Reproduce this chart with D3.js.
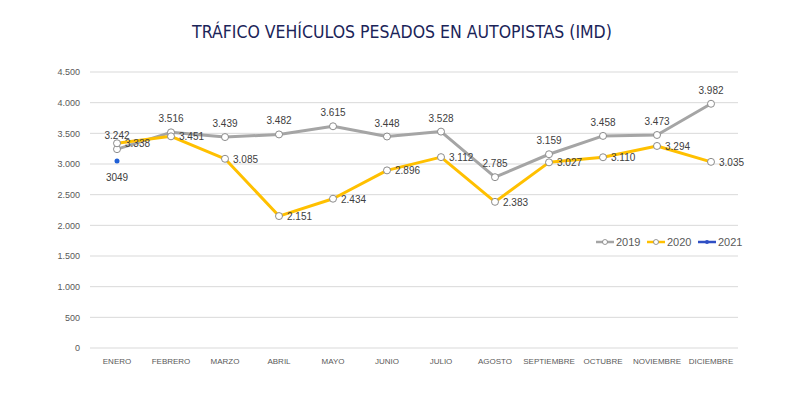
<!DOCTYPE html>
<html>
<head>
<meta charset="utf-8">
<script src="https://cdn.jsdelivr.net/npm/d3@7"></script>
<style>
  body { margin: 0; background: #fff; }
  text { font-family: "Liberation Sans", sans-serif; }
</style>
</head>
<body>
<div id="chart-area"></div>
<script>
// Data
var months = ["ENERO", "FEBRERO", "MARZO", "ABRIL", "MAYO", "JUNIO", "JULIO",
              "AGOSTO", "SEPTIEMBRE", "OCTUBRE", "NOVIEMBRE", "DICIEMBRE"];
var values2019 = [3242, 3516, 3439, 3482, 3615, 3448, 3528, 2785, 3159, 3458, 3473, 3982];
var values2020 = [3338, 3451, 3085, 2151, 2434, 2896, 3112, 2383, 3027, 3110, 3294, 3035];
var values2021 = [3049];
var yTicks = [0, 500, 1000, 1500, 2000, 2500, 3000, 3500, 4000, 4500];

var width = 800, height = 399;
var margin = { left: 90, right: 62, top: 72, bottom: 51 };
var innerW = width - margin.left - margin.right,
    innerH = height - margin.top - margin.bottom;

var svg = d3.select("#chart-area")
    .append("svg")
        .attr("width", width)
        .attr("height", height);

// Title
svg.append("text")
    .attr("x", 402)
    .attr("y", 38)
    .attr("text-anchor", "middle")
    .attr("font-size", "17.5px")
    .attr("fill", "#1b2459")
    .style("font-family", "\"DejaVu Sans Condensed\", \"DejaVu Sans\", sans-serif")
    .text("TRÁFICO VEHÍCULOS PESADOS EN AUTOPISTAS (IMD)");

var g = svg.append("g")
    .attr("transform", "translate(" + margin.left + "," + margin.top + ")");

var x = d3.scaleBand()
    .domain(months)
    .range([0, innerW]);

var y = d3.scaleLinear()
    .domain([0, 4500])
    .range([innerH, 0]);

var fmt = function(v) { return d3.format(",")(v).replace(/,/g, "."); };

// Gridlines
g.selectAll(".grid")
    .data(yTicks)
    .enter().append("line")
        .attr("x1", 0)
        .attr("x2", innerW)
        .attr("y1", function(d) { return y(d); })
        .attr("y2", function(d) { return y(d); })
        .attr("stroke", "#d9d9d9")
        .attr("stroke-width", 1);

// Y axis
var yAxis = g.append("g")
    .call(d3.axisLeft(y).tickValues(yTicks).tickSize(0).tickPadding(10).tickFormat(fmt));
yAxis.select(".domain").remove();
yAxis.selectAll("text")
    .attr("font-size", "9px")
    .attr("fill", "#595959")
    .style("font-family", "\"Liberation Sans\", sans-serif");

// X axis
var xAxis = g.append("g")
    .attr("transform", "translate(0," + innerH + ")")
    .call(d3.axisBottom(x).tickSize(0).tickPadding(10));
xAxis.select(".domain").remove();
xAxis.selectAll("text")
    .attr("font-size", "8px")
    .attr("fill", "#595959")
    .style("font-family", "\"Liberation Sans\", sans-serif");

var cx = function(i) { return x(months[i]) + x.bandwidth() / 2; };

var line = d3.line()
    .x(function(d, i) { return cx(i); })
    .y(function(d) { return y(d); });

var series = [
    { name: "2019", values: values2019, color: "#a5a5a5" },
    { name: "2020", values: values2020, color: "#ffc000" }
];

series.forEach(function(s) {
    g.append("path")
        .datum(s.values)
        .attr("fill", "none")
        .attr("stroke", s.color)
        .attr("stroke-width", 3)
        .attr("stroke-linejoin", "round")
        .attr("d", line);
});

series.forEach(function(s) {
    g.selectAll(".pt" + s.name)
        .data(s.values)
        .enter().append("circle")
            .attr("cx", function(d, i) { return cx(i); })
            .attr("cy", function(d) { return y(d); })
            .attr("r", 3.5)
            .attr("fill", "#fff")
            .attr("stroke", "#7f7f7f")
            .attr("stroke-width", 0.9);
});

// Data labels
g.selectAll(".lbl2019")
    .data(values2019)
    .enter().append("text")
        .attr("x", function(d, i) { return cx(i); })
        .attr("y", function(d) { return y(d) - 10; })
        .attr("text-anchor", "middle")
        .attr("font-size", "10px")
        .attr("fill", "#404040")
        .text(fmt);

g.selectAll(".lbl2020")
    .data(values2020)
    .enter().append("text")
        .attr("x", function(d, i) { return cx(i) + 8; })
        .attr("y", function(d) { return y(d) + 4; })
        .attr("font-size", "10px")
        .attr("fill", "#404040")
        .text(fmt);

// 2021
g.selectAll(".pt2021")
    .data(values2021)
    .enter().append("circle")
        .attr("cx", function(d, i) { return cx(i); })
        .attr("cy", function(d) { return y(d); })
        .attr("r", 2.5)
        .attr("fill", "#1f5fd6");

g.selectAll(".lbl2021")
    .data(values2021)
    .enter().append("text")
        .attr("x", function(d, i) { return cx(i); })
        .attr("y", function(d) { return y(d) + 20; })
        .attr("text-anchor", "middle")
        .attr("font-size", "10px")
        .attr("fill", "#404040")
        .text(function(d) { return d; });

// Legend
var legendItems = [
    { name: "2019", color: "#a5a5a5", marker: "open" },
    { name: "2020", color: "#ffc000", marker: "open" },
    { name: "2021", color: "#2f4fc4", marker: "dot" }
];
var legend = svg.append("g").attr("transform", "translate(596,242)");
legendItems.forEach(function(d, i) {
    var lg = legend.append("g").attr("transform", "translate(" + (i * 51) + ",0)");
    lg.append("line")
        .attr("x1", 0).attr("x2", 18)
        .attr("y1", 0).attr("y2", 0)
        .attr("stroke", d.color)
        .attr("stroke-width", 2.5);
    if (d.marker === "open") {
        lg.append("circle").attr("cx", 9).attr("cy", 0).attr("r", 2.5)
            .attr("fill", "#fff").attr("stroke", "#7f7f7f").attr("stroke-width", 0.8);
    } else {
        lg.append("circle").attr("cx", 9).attr("cy", 0).attr("r", 2)
            .attr("fill", d.color);
    }
    lg.append("text")
        .attr("x", 20)
        .attr("y", 4)
        .attr("font-size", "11px")
        .attr("fill", "#595959")
        .text(d.name);
});
</script>
</body>
</html>
